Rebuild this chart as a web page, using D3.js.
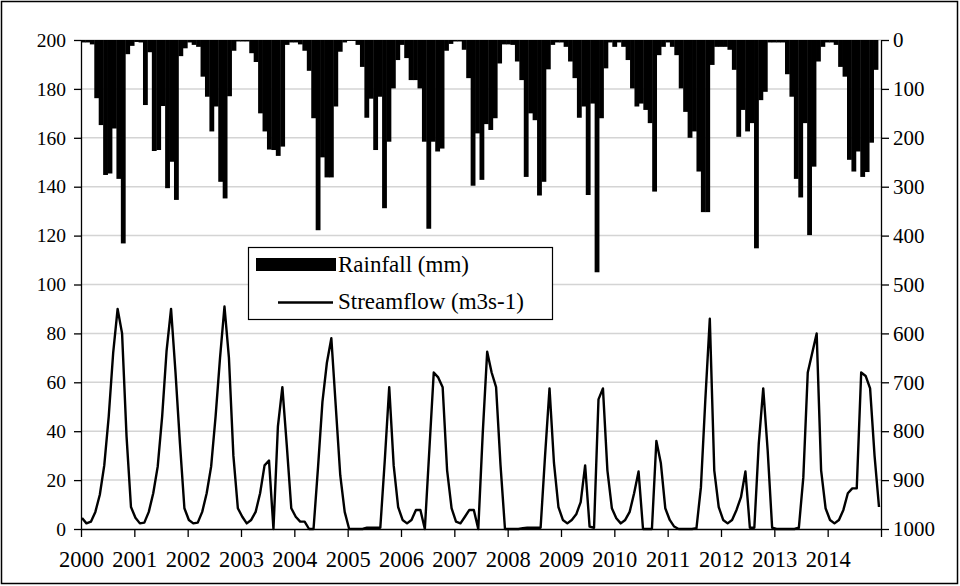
<!DOCTYPE html>
<html>
<head>
<meta charset="utf-8">
<script src="https://cdn.jsdelivr.net/npm/d3@7"></script>
<style>
  body { margin: 0; background: #fff; }
  svg { display: block; }
</style>
</head>
<body>
<svg id="chart" width="960" height="586"></svg>
<script>
// Year labels on the category axis (one tick every 12 months, 2000-2014)
const yearLabels = ["2000","2001","2002","2003","2004","2005","2006","2007",
                    "2008","2009","2010","2011","2012","2013","2014"];

// Monthly rainfall (mm), Jan 2000 - Dec 2014
const rainfall = [
  5, 5, 9, 119, 174, 276, 273, 181, 284, 416, 29, 12,        // 2000
  4, 5, 133, 25, 227, 225, 135, 303, 249, 327, 33, 17,       // 2001
  5, 10, 14, 75, 116, 187, 136, 290, 324, 115, 22, 3,        // 2002
  3, 3, 27, 45, 150, 187, 224, 225, 237, 218, 10, 5,         // 2003
  5, 9, 22, 63, 160, 389, 240, 281, 281, 136, 24, 5,         // 2004
  2, 2, 10, 55, 159, 120, 225, 116, 344, 208, 99, 41,        // 2005
  10, 37, 82, 82, 99, 208, 386, 208, 228, 222, 22, 8,        // 2006
  3, 3, 20, 78, 298, 191, 286, 172, 184, 160, 48, 9,         // 2007
  9, 10, 44, 82, 280, 150, 164, 318, 290, 60, 10, 5,         // 2008
  5, 14, 44, 78, 159, 136, 317, 130, 475, 160, 58, 5,        // 2009
  14, 5, 14, 41, 99, 136, 130, 143, 170, 310, 31, 14,        // 2010
  5, 14, 31, 99, 147, 200, 187, 269, 352, 352, 51, 14,       // 2011
  14, 14, 20, 61, 198, 143, 187, 170, 426, 123, 106, 5,      // 2012
  5, 5, 5, 70, 116, 284, 322, 170, 399, 259, 44, 14,         // 2013
  5, 5, 10, 55, 75, 245, 269, 228, 280, 270, 210, 61         // 2014
];

// Monthly streamflow (m3/s), Jan 2000 - Dec 2014
const streamflow = [
  4.5, 2.3, 3, 7, 14, 26, 46, 72, 90, 80, 38, 9,             // 2000
  4.6, 2.3, 2.6, 7, 14.6, 25.5, 46, 73, 90, 64, 35, 8.5,     // 2001
  3.7, 2.3, 2.6, 7, 14.6, 25.5, 46, 70, 91, 70, 30, 8.5,     // 2002
  5, 2.3, 3.7, 7, 14.6, 26, 28, 0, 42, 58, 34, 8.5,          // 2003
  5, 3, 3, 0, 0, 25, 52, 68, 78, 50, 22, 7,                  // 2004
  0, 0, 0, 0, 0.5, 0.5, 0.5, 0.5, 28, 58, 26, 9,             // 2005
  3.7, 2.3, 3.7, 7.8, 7.8, 0, 32, 64, 62, 58, 24, 8.5,       // 2006
  3, 2.3, 5, 7.8, 7.8, 0, 39, 72.5, 64, 58, 26, 0,           // 2007
  0, 0, 0, 0.3, 0.5, 0.5, 0.5, 0.5, 30, 57.5, 27, 9,         // 2008
  3.7, 2.3, 3.7, 6, 11, 26, 1, 0.5, 53, 57.5, 24, 8.5,       // 2009
  4.4, 2.3, 3.7, 7, 14.6, 23.5, 0, 0, 0, 36, 27, 8.5,        // 2010
  3.7, 1, 0, 0, 0, 0, 0.3, 17, 53, 86, 24, 9,                // 2011
  3.7, 2.3, 3.7, 7.8, 13, 23.5, 0.5, 0.5, 35, 57.5, 32, 0.5, // 2012
  0, 0, 0, 0, 0, 0.5, 21, 64, 72, 80, 24, 8.5,               // 2013
  3.7, 2.3, 3.7, 7.8, 14.6, 16.6, 16.6, 64, 62.6, 57.5, 30, 9 // 2014
];

// Axis tick values
const flowTicks = [0, 20, 40, 60, 80, 100, 120, 140, 160, 180, 200];
const rainTicks = [0, 100, 200, 300, 400, 500, 600, 700, 800, 900, 1000];

// Legend entries
const legendLabels = ["Rainfall (mm)", "Streamflow (m3s-1)"];

const FONT = '"Liberation Serif"';
const svg = d3.select("#chart");
const plot = { left: 81, right: 881, top: 40, bottom: 529 };
const months = d3.range(rainfall.length);

// Scales
const xMonth = d3.scaleLinear().domain([0, 180]).range([plot.left, plot.right]);
const xBar = d3.scaleBand().domain(months).range([plot.left, 878]).padding(0);
const xLine = d3.scalePoint().domain(months).range([82, 879]);
const yFlow = d3.scaleLinear().domain([0, 200]).range([plot.bottom, plot.top]);
const yRain = d3.scaleLinear().domain([0, 1000]).range([plot.top, plot.bottom]);

// Outer frame
svg.append("rect")
  .attr("x", 1.5).attr("y", 1.5).attr("width", 956).attr("height", 582)
  .attr("fill", "#fff").attr("stroke", "#000").attr("stroke-width", 1.5);

// Horizontal gridlines
svg.append("g")
  .selectAll("line")
  .data(flowTicks.filter(d => d > 0))
  .join("line")
  .attr("x1", plot.left).attr("x2", plot.right)
  .attr("y1", d => yFlow(d)).attr("y2", d => yFlow(d))
  .attr("stroke", "#d4d4d4").attr("stroke-width", 1.5);

// Rainfall columns hanging from the top (reversed secondary axis)
svg.append("g")
  .selectAll("rect")
  .data(rainfall)
  .join("rect")
  .attr("x", (d, i) => xBar(i))
  .attr("width", xBar.bandwidth() + 0.4)
  .attr("y", yRain(0))
  .attr("height", d => yRain(d) - yRain(0))
  .attr("fill", "#000");

// Streamflow line
svg.append("path")
  .datum(streamflow)
  .attr("fill", "none")
  .attr("stroke", "#000")
  .attr("stroke-width", 2.4)
  .attr("stroke-linejoin", "round")
  .attr("d", d3.line().x((d, i) => xLine(i)).y(d => yFlow(d)));

// Left axis (streamflow)
const axL = svg.append("g")
  .attr("transform", `translate(${plot.left},0)`)
  .call(d3.axisLeft(yFlow).tickValues(flowTicks).tickFormat(d3.format("d"))
    .tickSize(7).tickSizeOuter(0).tickPadding(8));

// Right axis (rainfall, reversed)
const axR = svg.append("g")
  .attr("transform", `translate(${plot.right},0)`)
  .call(d3.axisRight(yRain).tickValues(rainTicks).tickFormat(d3.format("d"))
    .tickSize(8).tickSizeOuter(0).tickPadding(4));

// Bottom axis (years)
const axB = svg.append("g")
  .attr("transform", `translate(0,${plot.bottom})`)
  .call(d3.axisBottom(xMonth)
    .tickValues(d3.range(0, 181, 12))
    .tickFormat(d => yearLabels[d / 12] || "")
    .tickSize(8).tickSizeOuter(0).tickPadding(14));

[axL, axR, axB].forEach(g => {
  g.attr("font-family", null);
  g.select(".domain").attr("stroke", "#000").attr("stroke-width", 1.3);
  g.selectAll(".tick line").attr("stroke", "#000").attr("stroke-width", 1.3);
  g.selectAll("text").style("font-family", FONT).attr("fill", "#000");
});
axL.selectAll("text").style("font-size", "19.5px");
axR.selectAll("text").style("font-size", "21px");
axB.selectAll("text").style("font-size", "22.5px");

// Legend
const lg = svg.append("g");
lg.append("rect")
  .attr("x", 248.5).attr("y", 247.5).attr("width", 304).attr("height", 72)
  .attr("fill", "#fff").attr("stroke", "#000").attr("stroke-width", 1.2);
lg.append("rect")
  .attr("x", 256).attr("y", 258).attr("width", 80).attr("height", 13)
  .attr("fill", "#000");
lg.append("line")
  .attr("x1", 278).attr("x2", 333).attr("y1", 302.5).attr("y2", 302.5)
  .attr("stroke", "#000").attr("stroke-width", 2.4);
lg.selectAll("text")
  .data(legendLabels)
  .join("text")
  .attr("x", 338)
  .attr("y", (d, i) => i === 0 ? 272 : 309)
  .style("font-family", FONT)
  .style("font-size", "23px")
  .attr("fill", "#000")
  .text(d => d);
</script>
</body>
</html>
